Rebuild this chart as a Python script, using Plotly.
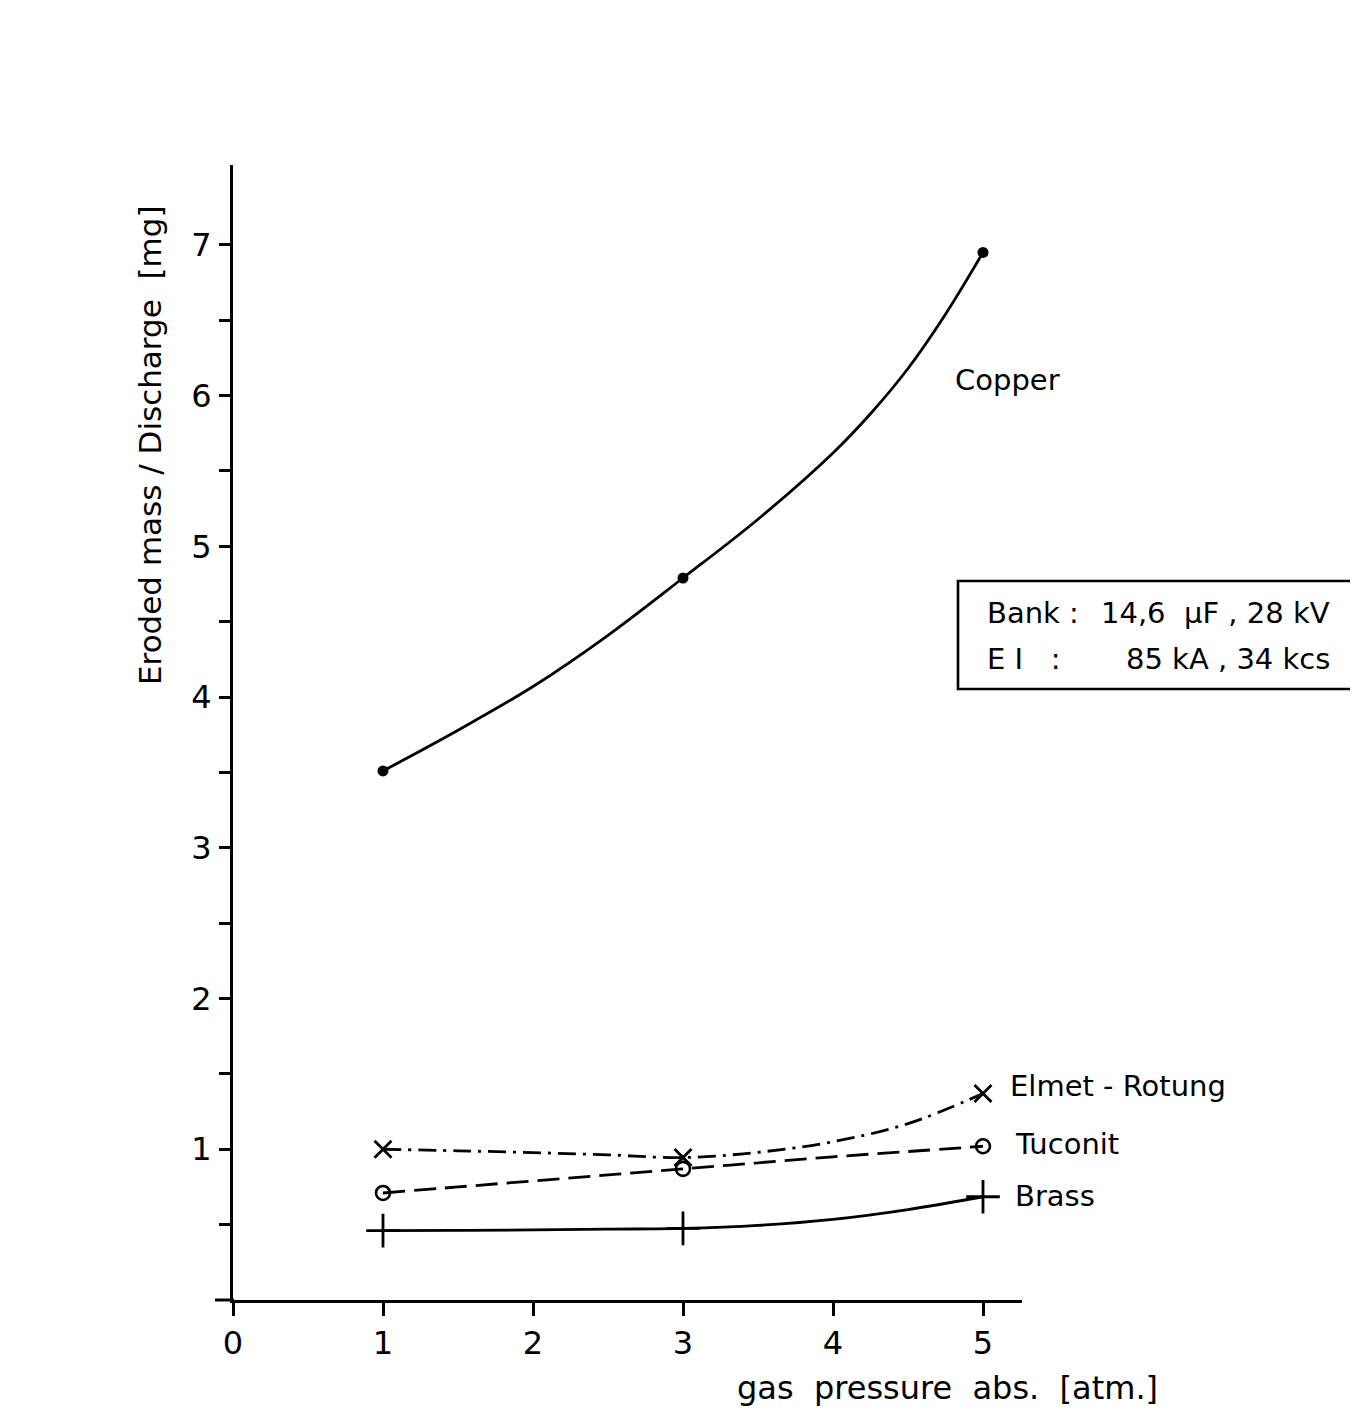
import plotly.graph_objects as go

# ---- data: measured points (markers) ----
pressure = [1, 3, 5]
copper = [3.51, 4.79, 6.95]
elmet = [1.00, 0.945, 1.37]
tuconit = [0.71, 0.87, 1.02]
brass = [0.46, 0.475, 0.685]

# ---- data: drawn curves ----
copper_curve_x = [1, 1.5, 2, 2.5, 3, 3.5, 4, 4.25, 4.5, 4.75, 5]
copper_curve = [3.51, 3.78, 4.07, 4.41, 4.79, 5.18, 5.62, 5.88, 6.18, 6.54, 6.95]
curve_x = [1, 1.5, 2, 2.5, 3, 3.5, 4, 4.5, 5]
elmet_curve = [1.00, 0.99, 0.978, 0.963, 0.945, 0.98, 1.05, 1.17, 1.37]
tuconit_curve = [0.71, 0.75, 0.79, 0.83, 0.87, 0.91, 0.95, 0.985, 1.02]
brass_curve = [0.46, 0.462, 0.465, 0.47, 0.475, 0.495, 0.535, 0.60, 0.685]

x_ticks = [0, 1, 2, 3, 4, 5]
y_ticks = [1, 2, 3, 4, 5, 6, 7]
y_minor = [0.5, 1.5, 2.5, 3.5, 4.5, 5.5, 6.5]

FONT = "DejaVu Sans"
OFF = 8  # default page body margin
W, H = 1358 - OFF, 1411 - OFF
L, T = 233 - OFF, 165 - OFF
pw, ph = 789, 1135
R, B = W - L - pw, H - T - ph


def px(x):
    return (x - OFF - L) / pw


def py(y):
    return (T + ph - (y - OFF)) / ph


fig = go.Figure()
LW = 2.8

series = [
    (copper_curve_x, copper_curve, copper, None,
     dict(symbol="circle", size=11, color="black")),
    (curve_x, elmet_curve, elmet, "18px,7px,3px,7px",
     dict(symbol="x-thin-open", size=17, color="black", line=dict(color="black", width=2.8))),
    (curve_x, tuconit_curve, tuconit, "22px,9px",
     dict(symbol="circle-open", size=14, color="black", line=dict(color="black", width=2.6))),
    (curve_x, brass_curve, brass, None,
     dict(symbol="cross-thin-open", size=24, color="black", line=dict(color="black", width=2.8))),
]
for cx, curve, pts, dash, marker in series:
    ln = dict(color="black", width=LW, shape="spline", smoothing=1.0)
    if dash:
        ln["dash"] = dash
    fig.add_trace(go.Scatter(x=cx, y=curve, mode="lines", line=ln, hoverinfo="skip"))
    fig.add_trace(go.Scatter(x=pressure, y=pts, mode="markers", marker=marker))

fig.update_xaxes(range=[0, 5.26], tickvals=x_ticks, ticks="outside", ticklen=13,
                 tickwidth=2.8, tickcolor="black", showline=True, linecolor="black",
                 linewidth=3, showgrid=False, zeroline=False,
                 tickfont=dict(family=FONT, size=32, color="black"))
fig.update_yaxes(range=[0, 7.53], tickvals=y_ticks, ticks="outside", ticklen=11,
                 tickwidth=2.8, tickcolor="black", showline=True, linecolor="black",
                 linewidth=3, showgrid=False, zeroline=False,
                 minor=dict(tickmode="array", tickvals=y_minor, ticks="outside", ticklen=11,
                            tickwidth=2.8, tickcolor="black"),
                 ticklabelstandoff=1,
                 tickfont=dict(family=FONT, size=32, color="black"))

anns = []
tf = dict(family=FONT, size=29, color="black")
anns.append(dict(x=px(953), y=py(380), text="Copper", xanchor="left", yanchor="middle"))
anns.append(dict(x=px(1008), y=py(1086), text="Elmet - Rotung", xanchor="left", yanchor="middle"))
anns.append(dict(x=px(1013), y=py(1144), text="Tuconit", xanchor="left", yanchor="middle"))
anns.append(dict(x=px(1013), y=py(1196), text="Brass", xanchor="left", yanchor="middle"))
anns.append(dict(x=px(985), y=py(613), text="Bank :", xanchor="left", yanchor="middle"))
anns.append(dict(x=px(985), y=py(659), text="E I   :", xanchor="left", yanchor="middle"))
anns.append(dict(x=px(1332), y=py(613), text="14,6  µF , 28 kV", xanchor="right", yanchor="middle"))
anns.append(dict(x=px(1332), y=py(659), text="85 kA , 34 kcs", xanchor="right", yanchor="middle"))
anns.append(dict(x=px(1160), y=py(1388), text="gas  pressure  abs.  [atm.]", xanchor="right",
                 yanchor="middle", font=dict(family=FONT, size=32, color="black")))
anns.append(dict(x=px(150), y=py(445), text="Eroded mass / Discharge  [mg]", textangle=-90,
                 xanchor="center", yanchor="middle", font=dict(family=FONT, size=31, color="black")))
for a in anns:
    a.update(xref="paper", yref="paper", showarrow=False)
    a.setdefault("font", tf)

fig.update_layout(
    width=W, height=H,
    margin=dict(l=L, r=R, t=T, b=B, autoexpand=False),
    paper_bgcolor="white", plot_bgcolor="white",
    showlegend=False,
    annotations=anns,
    shapes=[
        dict(type="rect", xref="paper", yref="paper",
             x0=px(958), x1=px(1356), y0=py(689), y1=py(581),
             line=dict(color="black", width=2.6)),
        dict(type="line", xref="paper", yref="paper",
             x0=px(215), x1=px(234), y0=py(1300), y1=py(1300),
             line=dict(color="black", width=3)),
    ],
)

fig.write_html("out.html")
